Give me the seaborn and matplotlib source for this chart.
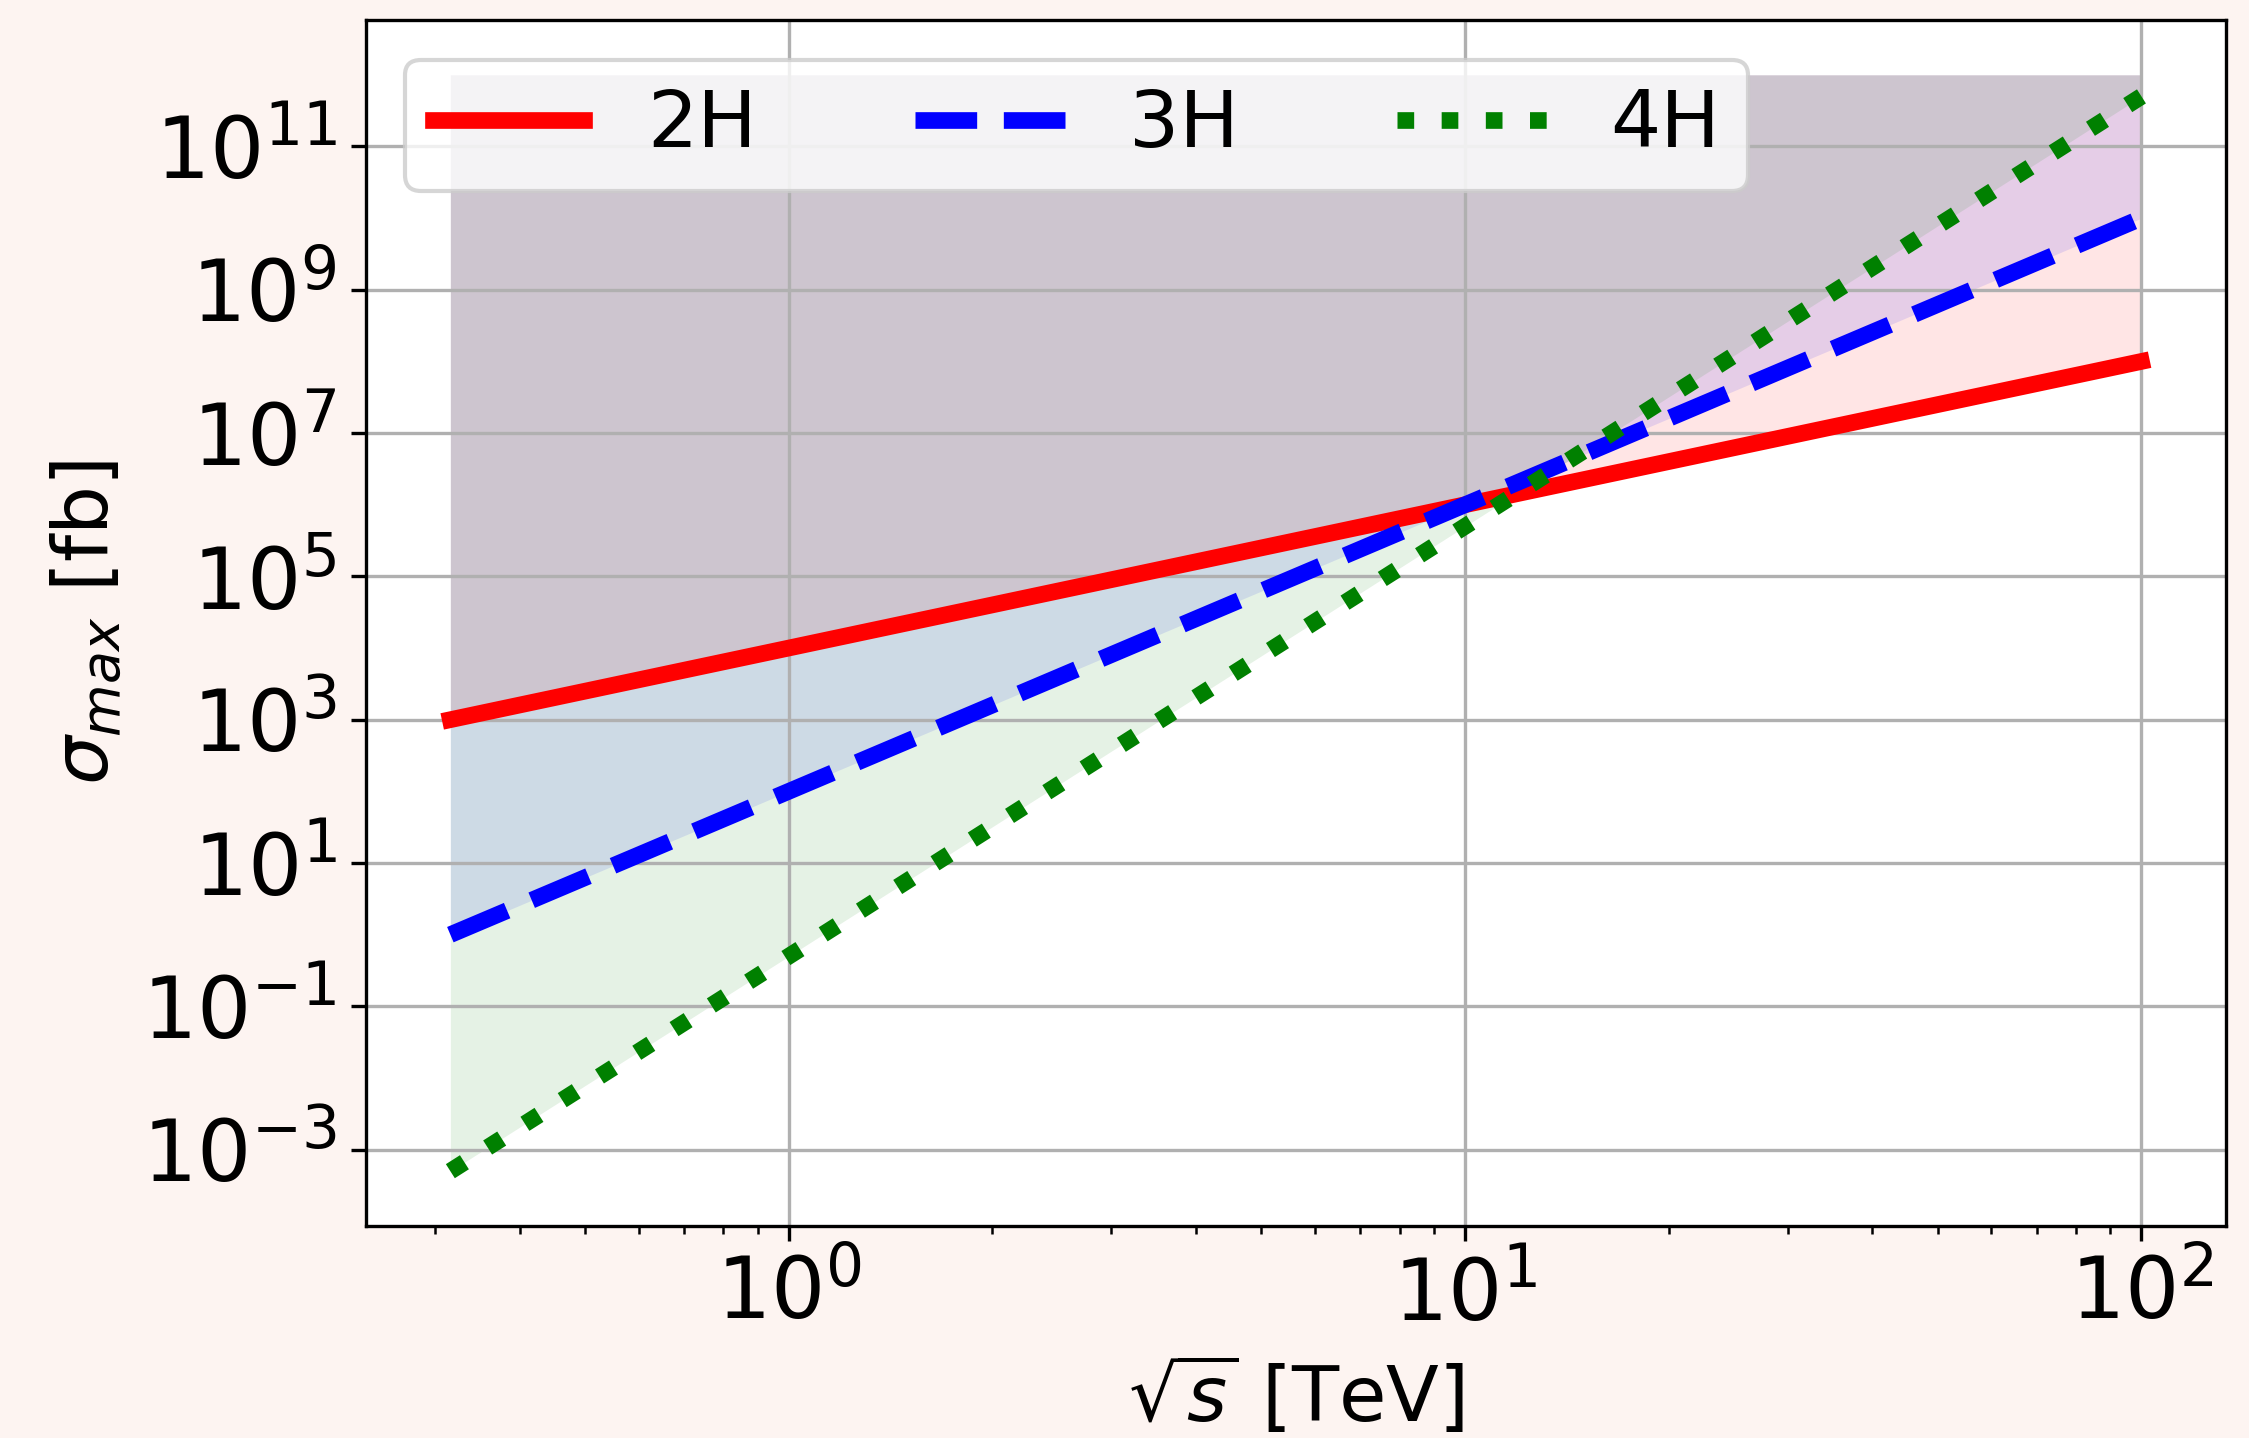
import numpy as np
import pandas as pd
import matplotlib
matplotlib.use("Agg")
import matplotlib.pyplot as plt
import seaborn as sns
from matplotlib.ticker import FixedLocator, NullLocator

# Data
sqrt_s = [0.316, 1.0, 10.0, 100.0]           # TeV
sigma_2H = [1.0e3, 1.0e4, 1.0e6, 1.0e8]      # fb
sigma_3H = [1.0e0, 1.0e2, 1.0e6, 1.0e10]
sigma_4H = [5.0e-4, 5.0e-1, 5.0e5, 5.0e11]
fill_top = 1.0e12
labels = ["2H", "3H", "4H"]
colors = ["red", "blue", "green"]
styles = ["-", "--", ":"]
ytick_vals = [1e-3, 1e-1, 1e1, 1e3, 1e5, 1e7, 1e9, 1e11]

plt.rcParams["font.family"] = ["DejaVu Sans"]
fig = plt.figure(figsize=(2249 / 300, 1438 / 300), dpi=300, facecolor="#fdf4f1")
ax = fig.add_axes([365.8 / 2249, 1 - 1226 / 1438, (2226 - 365.8) / 2249, (1226 - 20) / 1438])
ax.set_facecolor("white")

series = [sigma_2H, sigma_3H, sigma_4H]
for ys, c in zip(series, colors):
    ax.fill_between(sqrt_s, ys, fill_top, color=c, alpha=0.1, linewidth=0)

for ys, lab, c, ls in zip(series, labels, colors, styles):
    df = pd.DataFrame({"x": sqrt_s, "y": ys})
    sns.lineplot(data=df, x="x", y="y", ax=ax, color=c, linestyle=ls, linewidth=4, label=lab)

ax.set_xscale("log")
ax.set_yscale("log")
ax.yaxis.set_major_locator(FixedLocator(ytick_vals))
ax.yaxis.set_minor_locator(NullLocator())
ax.grid(True, which="major", color="#b0b0b0", linewidth=0.8)
ax.tick_params(labelsize=20.5)
ax.set_xlabel(r"$\sqrt{s}$ [TeV]", fontsize=18.5)
ax.set_ylabel(r"$\sigma_{max}$ [fb]", fontsize=18.5)
ax.legend(loc="upper left", ncol=3, fontsize=19, handlelength=1.9, borderpad=0.35)

fig.savefig("out.png", dpi=300, facecolor=fig.get_facecolor())
